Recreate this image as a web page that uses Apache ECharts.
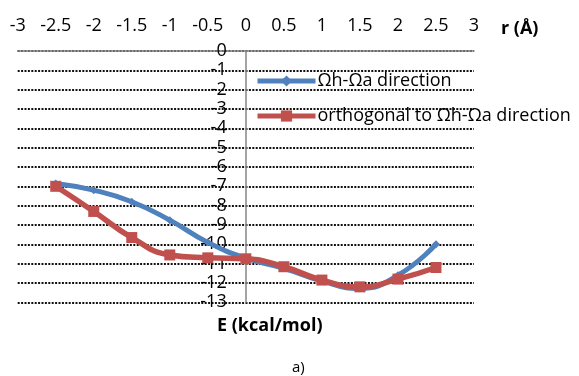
<!DOCTYPE html>
<html>
<head>
<meta charset="utf-8">
<script src="https://cdn.jsdelivr.net/npm/echarts@6/dist/echarts.min.js"></script>
<style>
html, body { margin: 0; padding: 0; background: #fff; }
#chart { width: 579px; height: 376px; }
</style>
</head>
<body>
<div id="chart"></div>
<script>
var rValues = [-2.5, -2, -1.5, -1, -0.5, 0, 0.5, 1, 1.5, 2, 2.5];
var hDirection = [-6.85, -7.2, -7.8, -8.75, -9.9, -10.72, -11.24, -11.9, -12.28, -11.6, -10.0];
var orthDirection = [-7.0, -8.3, -9.65, -10.55, -10.7, -10.75, -11.16, -11.85, -12.2, -11.8, -11.2];
var seriesNames = ['Ωh-Ωa direction', 'orthogonal to Ωh-Ωa direction'];

function pairs(ys) {
    return rValues.map(function (r, i) { return [r, ys[i]]; });
}

var font = '"Open Sans", sans-serif';
var myChart = echarts.init(document.getElementById('chart'));
myChart.setOption({
    animation: false,
    textStyle: { fontFamily: font },
    grid: { left: 17.7, right: 105, top: 51, bottom: 73.7 },
    legend: {
        orient: 'vertical',
        left: 250,
        top: 67,
        itemWidth: 58,
        itemHeight: 14,
        itemGap: 17,
        lineStyle: { width: 5 },
        textStyle: { fontSize: 18, color: '#000', fontFamily: font, padding: [0, 0, 0, -3] },
        data: seriesNames
    },
    xAxis: {
        type: 'value',
        position: 'top',
        min: -3,
        max: 3,
        interval: 0.5,
        axisLine: { onZero: false, lineStyle: { color: '#868686', width: 1.5 } },
        axisTick: { show: false },
        axisLabel: { fontSize: 18, color: '#000', margin: 16 },
        splitLine: { show: false }
    },
    yAxis: {
        type: 'value',
        min: -13,
        max: 0,
        interval: 1,
        offset: -228,
        axisLine: { show: true, onZero: false, lineStyle: { color: '#868686', width: 1.5 } },
        axisTick: { show: false },
        axisLabel: { fontSize: 18, color: '#000', margin: 19 },
        splitLine: { show: true, lineStyle: { type: [2, 1.4], width: 2, color: '#111' } }
    },
    graphic: [
        { type: 'text', left: 501, top: 20, style: { text: 'r (Å)', font: 'bold 18px ' + font, fill: '#000' } },
        { type: 'text', left: 217, top: 317, style: { text: 'E (kcal/mol)', font: 'bold 18px ' + font, fill: '#000' } },
        { type: 'text', left: 292, top: 360, style: { text: 'a)', font: '15px ' + font, fill: '#000' } }
    ],
    series: [
        {
            name: seriesNames[0],
            type: 'line',
            smooth: true,
            data: pairs(hDirection),
            symbol: 'diamond',
            symbolSize: 8,
            lineStyle: { width: 5, color: '#4F81BD' },
            itemStyle: { color: '#4F81BD' },
            z: 2
        },
        {
            name: seriesNames[1],
            type: 'line',
            smooth: true,
            data: pairs(orthDirection),
            symbol: 'rect',
            symbolSize: 11,
            lineStyle: { width: 5.5, color: '#C0504D' },
            itemStyle: { color: '#C0504D' },
            z: 3
        }
    ]
});
</script>
</body>
</html>
